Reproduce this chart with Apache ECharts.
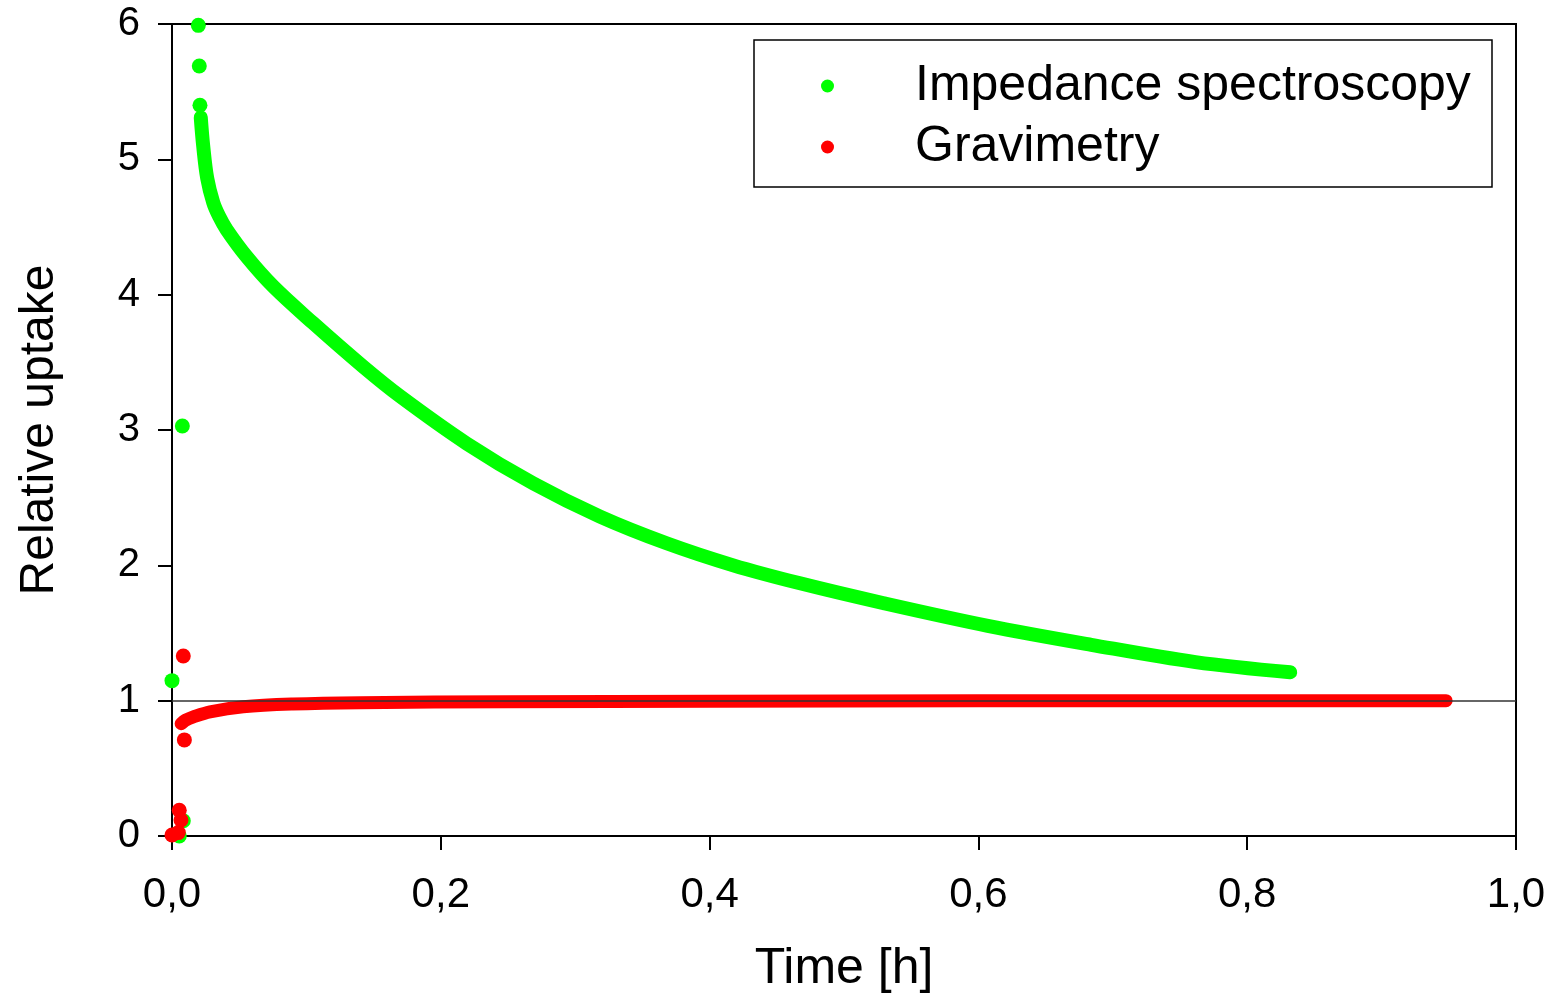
<!DOCTYPE html>
<html>
<head>
<meta charset="utf-8">
<script src="https://cdn.jsdelivr.net/npm/echarts@6/dist/echarts.min.js"></script>
<style>html,body{margin:0;padding:0;background:#fff}#c{width:1552px;height:996px}</style>
</head>
<body>
<div id="c"></div>
<script>
// Axis ticks
const xTicks = [0, 0.2, 0.4, 0.6, 0.8, 1.0];
const yTicks = [0, 1, 2, 3, 4, 5, 6];

// Impedance spectroscopy: isolated early points and dense curve
const impedancePoints = [[0, 1.148], [0.0054, 0.0], [0.0084, 0.113], [0.0077, 3.03], [0.0196, 5.99], [0.0203, 5.69], [0.0208, 5.40]];
const impedanceCurve = [[0.0214, 5.31], [0.0232, 5.10], [0.0262, 4.86], [0.0307, 4.68], [0.035, 4.58], [0.0407, 4.48], [0.0556, 4.28], [0.0754, 4.06], [0.105, 3.79], [0.142, 3.47], [0.1696, 3.25], [0.2193, 2.90], [0.2688, 2.605], [0.3185, 2.36], [0.368, 2.163], [0.4176, 2.00], [0.4673, 1.867], [0.5296, 1.72], [0.607, 1.553], [0.684, 1.413], [0.7615, 1.285], [0.832, 1.21]];

// Gravimetry: isolated early points and dense curve
const gravPoints = [[0, 0.007], [0.0047, 0.025], [0.0054, 0.19], [0.0067, 0.118], [0.0084, 1.33], [0.0092, 0.71]];
const gravCurve = [[0.0068, 0.83], [0.0100, 0.855], [0.0159, 0.88], [0.0283, 0.918], [0.053, 0.955], [0.09, 0.975], [0.14, 0.985], [0.25, 0.992], [0.4, 0.996], [0.6, 0.999], [0.8, 1.0], [0.948, 1.0]];

const refLine = 1;

const chart = echarts.init(document.getElementById('c'), null, {renderer: 'canvas'});
const FONT = 'Liberation Sans, Arial, sans-serif';
const GREEN = '#00ff00', RED = '#ff0000';

chart.setOption({
  animation: false,
  backgroundColor: '#fff',
  grid: {left: 172, right: 36, top: 24, bottom: 160, containLabel: false, outerBoundsMode: 'none',
    show: true, borderColor: '#000', borderWidth: 2, backgroundColor: 'transparent'},
  xAxis: {
    type: 'value', min: xTicks[0], max: xTicks[xTicks.length - 1], interval: 0.2,
    name: 'Time [h]', nameLocation: 'middle', nameGap: 108,
    nameTextStyle: {fontFamily: FONT, fontSize: 50, color: '#000'},
    axisLine: {show: true, lineStyle: {color: '#000', width: 2}},
    axisTick: {show: true, inside: false, length: 14, lineStyle: {color: '#000', width: 2}},
    axisLabel: {fontFamily: FONT, fontSize: 42, color: '#000', margin: 38,
      formatter: v => v.toFixed(1).replace('.', ',')},
    splitLine: {show: false}
  },
  yAxis: {
    type: 'value', min: yTicks[0], max: yTicks[yTicks.length - 1], interval: 1,
    name: 'Relative uptake', nameLocation: 'middle', nameGap: 108, nameRotate: 90,
    nameTextStyle: {fontFamily: FONT, fontSize: 48, color: '#000'},
    axisLine: {show: true, lineStyle: {color: '#000', width: 2}},
    axisTick: {show: true, inside: false, length: 14, lineStyle: {color: '#000', width: 2}},
    axisLabel: {fontFamily: FONT, fontSize: 40, color: '#000', margin: 32},
    splitLine: {show: false}
  },
  legend: {
    left: 816, top: 56, orient: 'vertical', itemGap: 11,
    itemWidth: 13, itemHeight: 13, icon: 'circle',
    textStyle: {fontFamily: FONT, fontSize: 50, color: '#000', padding: [0, 0, 0, 76]},
    data: ['Impedance spectroscopy', 'Gravimetry']
  },
  graphic: [{
    type: 'rect', shape: {x: 754, y: 40, width: 738, height: 147},
    style: {fill: 'none', stroke: '#000', lineWidth: 1.5}, z: 100, silent: true
  }],
  series: [
    {name: 'Impedance spectroscopy', type: 'line', data: impedanceCurve, smooth: 0.35, showSymbol: false,
      clip: false, color: GREEN, lineStyle: {color: GREEN, width: 14, cap: 'round', join: 'round'}, z: 2},
    {name: 'Impedance spectroscopy', type: 'scatter', data: impedancePoints, symbol: 'circle', symbolSize: 15,
      clip: false, itemStyle: {color: GREEN, opacity: 1}, z: 2},
    {name: 'Gravimetry', type: 'line', data: gravCurve, smooth: 0.35, showSymbol: false,
      clip: false, color: RED, lineStyle: {color: RED, width: 13, cap: 'round', join: 'round'}, z: 3},
    {name: 'Gravimetry', type: 'scatter', data: gravPoints, symbol: 'circle', symbolSize: 15,
      clip: false, itemStyle: {color: RED, opacity: 1}, z: 3,
      markLine: {silent: true, symbol: 'none', label: {show: false}, z: 10,
        lineStyle: {color: '#333', width: 1.5, type: 'solid'},
        data: [{yAxis: refLine}]}}
  ]
});
</script>
</body>
</html>
